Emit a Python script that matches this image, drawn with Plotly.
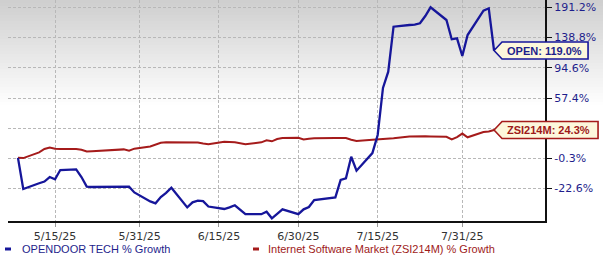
import math
import pandas as pd
import plotly.graph_objects as go

# ---------------- data ----------------
dates = [
    "2025-05-08", "2025-05-09", "2025-05-12", "2025-05-13", "2025-05-14", "2025-05-15", "2025-05-16",
    "2025-05-19", "2025-05-20", "2025-05-21", "2025-05-22", "2025-05-23", "2025-05-27", "2025-05-28",
    "2025-05-29", "2025-05-30",
    "2025-06-02", "2025-06-03", "2025-06-04", "2025-06-05", "2025-06-06", "2025-06-09", "2025-06-10",
    "2025-06-11", "2025-06-12", "2025-06-13", "2025-06-16", "2025-06-17", "2025-06-18", "2025-06-20",
    "2025-06-23", "2025-06-24", "2025-06-25", "2025-06-26", "2025-06-27", "2025-06-30",
    "2025-07-01", "2025-07-02", "2025-07-03", "2025-07-07", "2025-07-08", "2025-07-09", "2025-07-10",
    "2025-07-11", "2025-07-14", "2025-07-15", "2025-07-16", "2025-07-17", "2025-07-18", "2025-07-21",
    "2025-07-22", "2025-07-23", "2025-07-24", "2025-07-25", "2025-07-28", "2025-07-29", "2025-07-30",
    "2025-07-31",
    "2025-08-01", "2025-08-04", "2025-08-05", "2025-08-06",
]

open_growth = [
    0.0, -23.1, -19.1, -17.9, -14.7, -16.3, -9.5, -9.0, -14.7, -21.4, -21.7, -21.7, -21.9, -21.7, -21.5, -25.4,
    -31.2, -32.4, -28.4, -25.7, -22.2, -34.9, -31.8, -30.7, -31.0, -34.4, -35.9, -34.9, -33.6, -39.0,
    -39.0, -37.5, -41.4, -38.8, -36.1, -39.0,
    -36.1, -34.7, -30.3, -28.6, -16.8, -15.6, 0.9, -10.0, 3.9, 19.7, 69.1, 89.5, 156.6, 159.5,
    160.2, 162.4, 175.2, 191.2, 168.1, 136.1, 137.6, 111.0,
    142.9, 184.9, 189.3, 119.0,
]

zsi_growth = [
    0.0, -0.2, 4.5, 7.3, 8.6, 7.5, 7.3, 7.3, 6.6, 5.2, 5.4, 5.6, 6.6, 7.0, 5.8, 7.6,
    9.5, 11.0, 12.7, 13.1, 13.1, 13.1, 13.1, 12.9, 12.0, 11.4, 13.6, 13.4, 13.1, 11.4,
    13.1, 14.9, 14.0, 16.0, 16.9, 17.2,
    15.7, 16.3, 16.7, 16.9, 17.2, 16.9, 15.4, 14.2, 15.4, 15.7, 16.0, 16.0, 16.7, 18.3,
    18.5, 18.5, 18.5, 18.3, 18.0, 15.7, 17.8, 21.0,
    17.6, 22.4, 22.9, 24.3,
]

series_names = ["OPENDOOR TECH % Growth", "Internet Software Market (ZSI214M) % Growth"]
label_names = ["OPEN", "ZSI214M"]

# the gridline at 26.1% has its label hidden behind the ZSI214M value box in the reference
y_tick_values = [191.2, 138.8, 94.6, 57.4, 26.1, -0.3, -22.6]
y_tick_labels = ["191.2%", "138.8%", "94.6%", "57.4%", "", "-0.3%", "-22.6%"]

x_tick_dates = ["2025-05-15", "2025-05-31", "2025-06-15", "2025-06-30", "2025-07-15", "2025-07-31"]
x_tick_labels = ["5/15/25", "5/31/25", "6/15/25", "6/30/25", "7/15/25", "7/31/25"]

# ---------------- style / layout ----------------
OFFSET = 143.6  # the chart's growth axis is logarithmic in (growth + offset)
W, H = 603, 258
ML, MR, MT, MB = 8, 58, 0, 37
PW, PH = W - ML - MR, H - MT - MB

BLUE = "#16169a"
RED = "#a51b1b"
NAVY_TXT = "#1e1e8c"
RED_TXT = "#9e1a1a"

X_RANGE = [pd.Timestamp("2025-05-06 02:45"), pd.Timestamp("2025-08-15 15:10")]
Y_RANGE = [2.00292, 2.54262]


def yv(vals):
    return [v + OFFSET for v in vals]


fig = go.Figure()
fig.add_trace(go.Scatter(x=dates, y=yv(zsi_growth), mode="lines",
                         line=dict(color=RED, width=2), name=series_names[1],
                         showlegend=False, hoverinfo="skip"))
fig.add_trace(go.Scatter(x=dates, y=yv(open_growth), mode="lines",
                         line=dict(color=BLUE, width=2.3), name=series_names[0],
                         showlegend=False, hoverinfo="skip"))

shapes = []
# background gradient (top gray -> white)
n_bands = 36
band_px = 3
for i in range(n_bands):
    t = i / (n_bands - 1)
    c = int(round(207 + (255 - 207) * t))
    y_top = H - i * band_px
    y_bot = H - (i + 1) * band_px - 0.5
    shapes.append(dict(type="rect", xref="paper", yref="paper", layer="below",
                       x0=-ML / PW, x1=(W - ML) / PW,
                       y0=(y_bot - MB) / PH, y1=(y_top - MB) / PH,
                       fillcolor=f"rgb({c},{c},{c})", line=dict(width=0)))


def frac_x(d):
    d = pd.Timestamp(d)
    return (d - X_RANGE[0]) / (X_RANGE[1] - X_RANGE[0])


def frac_y(v):
    return (math.log10(v + OFFSET) - Y_RANGE[0]) / (Y_RANGE[1] - Y_RANGE[0])


annotations = []
for name, vals, col, txtcol, width in [(label_names[0], open_growth, BLUE, NAVY_TXT, 94),
                                        (label_names[1], zsi_growth, RED, RED_TXT, 104)]:
    fx, fy = frac_x(dates[-1]), frac_y(vals[-1])
    shapes.append(dict(type="path", xref="paper", yref="paper", layer="above",
                       xsizemode="pixel", ysizemode="pixel", xanchor=fx, yanchor=fy,
                       path=f"M 0 0 L 8 8.5 L {width} 8.5 L {width} -8.5 L 8 -8.5 Z",
                       fillcolor="#fdf7dc", line=dict(color=col, width=1.6)))
    annotations.append(dict(xref="paper", yref="paper", x=fx, y=fy, xanchor="left",
                            yanchor="middle", xshift=11, showarrow=False,
                            text=f"<b>{name}: {vals[-1]:.1f}%</b>",
                            font=dict(family="Liberation Sans, Arial", size=11, color=txtcol)))

# custom legend
leg_y = (H - 249 - MB) / PH
for px_dash, px_text, col, txtcol, name in [(5, 20, BLUE, NAVY_TXT, series_names[0]),
                                            (253, 266, RED, RED_TXT, series_names[1])]:
    shapes.append(dict(type="line", xref="paper", yref="paper",
                       x0=(px_dash - ML) / PW, x1=(px_dash + 6 - ML) / PW,
                       y0=leg_y, y1=leg_y, line=dict(color=col, width=3)))
    annotations.append(dict(xref="paper", yref="paper", x=(px_text - ML) / PW, y=leg_y,
                            xanchor="left", yanchor="middle", showarrow=False, text=name,
                            font=dict(family="Liberation Sans, Arial", size=11, color=txtcol)))

fig.update_layout(
    width=W, height=H,
    margin=dict(l=ML, r=MR, t=MT, b=MB, pad=0),
    paper_bgcolor="white", plot_bgcolor="white",
    showlegend=False,
    shapes=shapes, annotations=annotations,
    xaxis=dict(type="date", range=[str(X_RANGE[0]), str(X_RANGE[1])],
               tickvals=x_tick_dates, ticktext=x_tick_labels,
               showgrid=True, gridcolor="#b8b8b8", gridwidth=1, griddash="3px,2px",
               showline=True, linecolor="#111111", linewidth=2,
               ticks="outside", ticklen=4, tickcolor="#999999",
               tickfont=dict(family="DejaVu Sans, Verdana", size=11, color="#333333"),
               zeroline=False, fixedrange=True),
    yaxis=dict(type="log", side="right", range=Y_RANGE,
               tickvals=yv(y_tick_values), ticktext=y_tick_labels,
               showgrid=True, gridcolor="#b8b8b8", gridwidth=1, griddash="3px,2px",
               showline=True, linecolor="#111111", linewidth=2,
               ticks="outside", ticklen=5, tickcolor="#111111",
               tickfont=dict(family="DejaVu Sans, Verdana", size=11, color=NAVY_TXT),
               zeroline=False, fixedrange=True),
)

fig.write_html("out.html", config={"displayModeBar": False})
